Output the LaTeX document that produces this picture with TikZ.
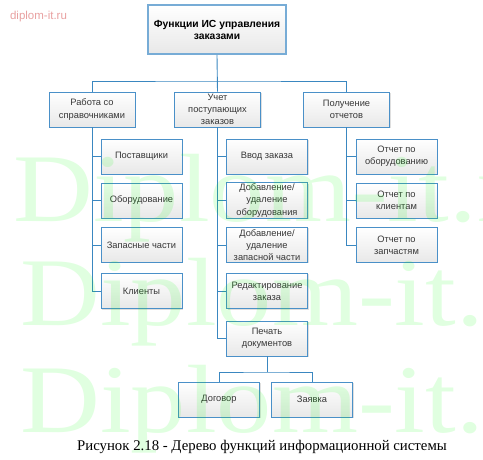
\documentclass[tikz,border=0pt]{standalone}
\usepackage{fontspec}
\setmainfont{Liberation Serif}
\setsansfont{Liberation Sans}
\usetikzlibrary{shadows}

\definecolor{lineblue}{RGB}{58,135,192}
\definecolor{boxblue}{RGB}{74,144,200}
\definecolor{textgray}{RGB}{55,55,55}
\definecolor{markpink}{RGB}{232,160,160}

\begin{document}
\begin{tikzpicture}[x=1pt, y=-1pt,
    box/.style={draw=boxblue, line width=0.9pt, top color=white, bottom color=black!9,
      minimum width=81pt, minimum height=35pt, inner sep=1pt, align=center,
      text=textgray, font=\sffamily\fontsize{9.3}{12.3}\selectfont,
      drop shadow={shadow xshift=1pt, shadow yshift=-1pt, opacity=0.25}},
    topbox/.style={box, line width=1.8pt, draw=boxblue!75, minimum width=138pt,
      minimum height=49pt, text=black, font=\sffamily\bfseries\fontsize{10.3}{12}\selectfont},
    link/.style={draw=lineblue, line width=0.9pt}]
      \useasboundingbox (0, 0) rectangle (483, 460);

      \node [font=\sffamily\fontsize{11.5}{13}\selectfont, text=markpink] (mark) at (38.5, 17) {diplom-it.ru};

      % root and first level
      \node [topbox] (root) at (217, 29.5) {Функции ИС управления\\заказами};
      \node [box, minimum width=86pt] (refs) at (92, 109.5) {Работа со\\справочниками};
      \node [box, minimum width=86pt] (orders) at (217.5, 109.5) {Учет\\поступающих\\заказов};
      \node [box, minimum width=86pt] (reports) at (346.5, 109.5) {Получение\\отчетов};

      \coordinate (bus) at (217, 81);
      \draw [link] (root.south) -- (orders.north);
      \draw [link] (refs.north) |- (bus) -| (reports.north);

      % справочники
      \node [box] (supp) at (141.5, 156.5) {Поставщики};
      \node [box] (equip) at (141.5, 200.5) {Оборудование};
      \node [box] (parts) at (141.5, 245) {Запасные части};
      \node [box] (clients) at (141.5, 291) {Клиенты};
      \foreach \n in {supp, equip, parts, clients}
        \draw [link] (refs.south) |- (\n.west);

      % заказы
      \node [box] (input) at (267, 156.5) {Ввод заказа};
      \node [box] (addeq) at (267, 200.5) {Добавление/\\удаление\\оборудования};
      \node [box] (addpt) at (267, 245) {Добавление/\\удаление\\запасной части};
      \node [box] (edit) at (267, 291) {Редактирование\\заказа};
      \node [box] (print) at (267, 338.5) {Печать\\документов};
      \foreach \n in {input, addeq, addpt, edit, print}
        \draw [link] (orders.south) |- (\n.west);

      % отчеты
      \node [box] (rpeq) at (396.5, 156.5) {Отчет по\\оборудованию};
      \node [box] (rpcl) at (396.5, 200.5) {Отчет по\\клиентам};
      \node [box] (rppt) at (396.5, 245) {Отчет по\\запчастям};
      \foreach \n in {rpeq, rpcl, rppt}
        \draw [link] (reports.south) |- (\n.west);

      % документы
      \node [box] (contract) at (219, 399.5) {Договор};
      \node [box] (request) at (312, 399.5) {Заявка};
      \coordinate (bus2) at (267, 372);
      \draw [link] (print.south) -- (bus2);
      \draw [link] (contract.north) |- (bus2) -| (request.north);

      % watermark
      \foreach \y/\x [count=\i] in {222/13, 325/20, 432/20}
        \node [anchor=base west, inner sep=0pt, text=green, text opacity=0.12,
          font=\fontsize{97}{97}\selectfont] (wm\i) at (\x, \y) {\scalebox{1.14}[1]{Diplom-it.ru}};

      \node [font=\fontsize{14.8}{17}\selectfont] (caption) at (262, 447) {Рисунок 2.18 - Дерево функций информационной системы};
    \end{tikzpicture}
\end{document}
